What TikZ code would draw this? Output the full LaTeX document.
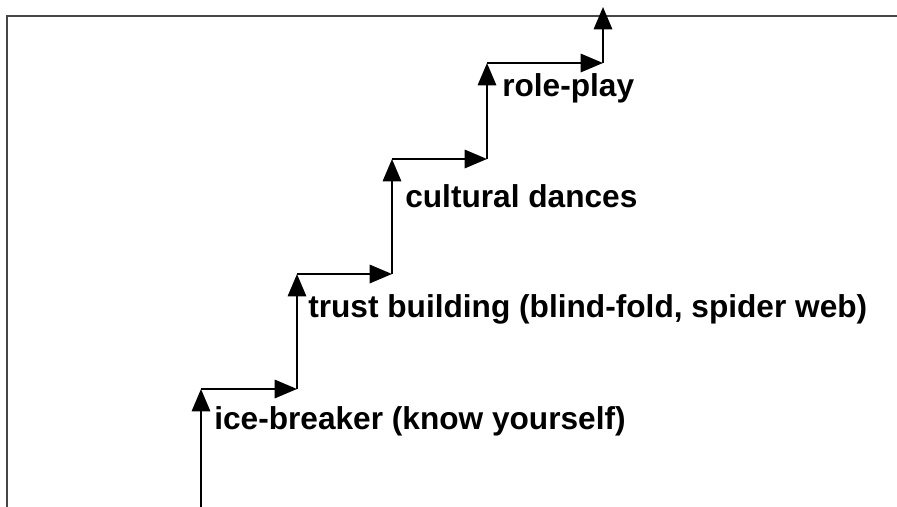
\documentclass[tikz,border=0pt]{standalone}
\usepackage{fontspec}
\setmainfont{Liberation Sans}
\usetikzlibrary{arrows.meta,positioning}
\definecolor{framegray}{RGB}{70,70,70}

\begin{document}
\begin{tikzpicture}[
x=0.025cm, y=-0.025cm,
stair/.style={-{Triangle[length=0.56cm, width=0.46cm]}, line width=1.5pt, black},
lbl/.style={anchor=base west, inner sep=0pt, font=\fontsize{22.5}{27}\selectfont\bfseries}
]
\useasboundingbox (0,0) rectangle (897,507);
\draw[framegray, line width=0.9pt] (7,510) -- (7,16) -- (900,16);
% corners of the stairs
\coordinate (s0) at (201,507);
\coordinate (s1) at (201,389);
\coordinate (s2) at (297,389);
\coordinate (s3) at (297,274);
\coordinate (s4) at (392,274);
\coordinate (s5) at (392,159);
\coordinate (s6) at (487,159);
\coordinate (s7) at (487,63);
\coordinate (s8) at (603,63);
\coordinate (s9) at (603,7);
\draw[stair] (s0) -- (s1);
\draw[stair] (s1) -- (s2);
\draw[stair] (s2) -- (s3);
\draw[stair] (s3) -- (s4);
\draw[stair] (s4) -- (s5);
\draw[stair] (s5) -- (s6);
\draw[stair] (s6) -- (s7);
\draw[stair] (s7) -- (s8);
\draw[stair] (s8) -- (s9);
% labels
\node[lbl] (ice) at (214,429) {ice-breaker (know yourself)};
\node[lbl] (trust) at (308,317) {trust building (blind-fold, spider web)};
\node[lbl] (dance) at (405,207) {cultural dances};
\node[lbl] (role) at (502,96) {role-play};
\end{tikzpicture}
\end{document}
